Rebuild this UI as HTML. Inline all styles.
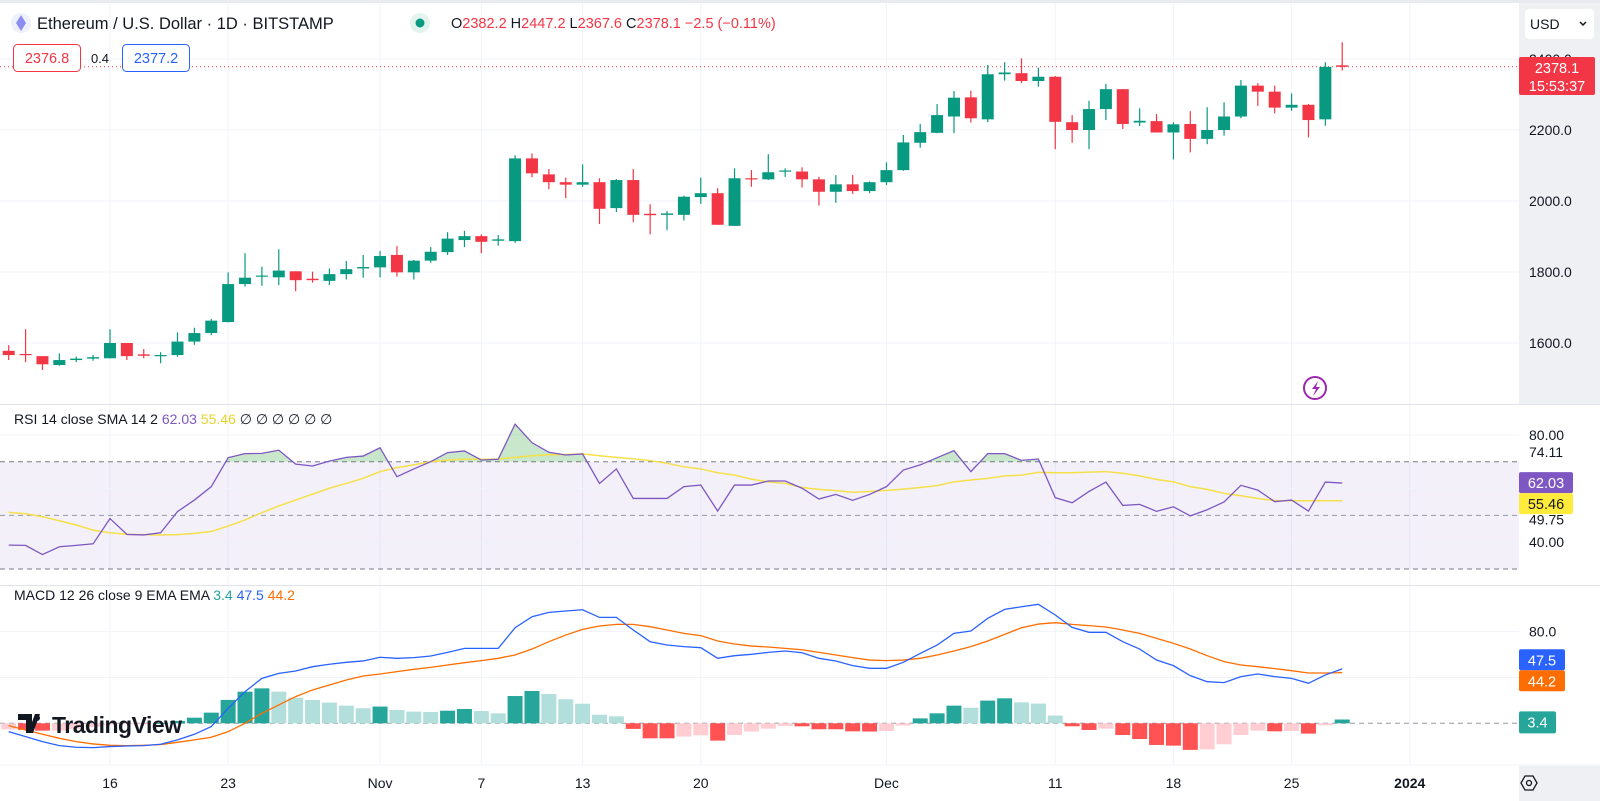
<!DOCTYPE html>
<html><head><meta charset="utf-8">
<style>
html,body{margin:0;padding:0;background:#fff;}
svg{display:block;font-family:"Liberation Sans",sans-serif;}
</style></head>
<body>
<svg id="chart" width="1600" height="801" viewBox="0 0 1600 801" xmlns="http://www.w3.org/2000/svg">
  <rect x="0" y="0" width="1600" height="801" fill="#ffffff"/>
  <rect x="1519" y="3" width="81" height="401" fill="#eef0f3"/>
  <rect x="0" y="0" width="1600" height="3" fill="#e8eaef"/>
  <g id="grid"></g>
  <g id="rsiPane"></g>
  <g id="macdPane"></g>
  <g id="candles"></g>
  <line x1="0" y1="404.5" x2="1600" y2="404.5" stroke="#e0e3eb" stroke-width="1"/>
  <line x1="0" y1="585.5" x2="1600" y2="585.5" stroke="#e0e3eb" stroke-width="1"/>
  <line x1="0" y1="765" x2="1600" y2="765" stroke="#f0f3fa" stroke-width="1"/>
  <g id="axes"></g>

  <g>
    <circle cx="21" cy="23" r="10" fill="#eef0fb"/>
    <polygon points="21,15 26,23 21,31 16,23" fill="#8c8ff0"/>
    <text x="37" y="29" font-size="16.5" fill="#131722">Ethereum / U.S. Dollar · 1D · BITSTAMP</text>
    <circle cx="420" cy="23" r="10" fill="#e3f4ef"/>
    <circle cx="420" cy="23" r="4.5" fill="#089981"/>
    <text x="451" y="28" font-size="14.5" fill="#f23645"><tspan fill="#131722">O</tspan>2382.2 <tspan fill="#131722">H</tspan>2447.2 <tspan fill="#131722">L</tspan>2367.6 <tspan fill="#131722">C</tspan>2378.1 −2.5 (−0.11%)</text>
    <rect x="13.5" y="44.5" width="67" height="27" rx="4" fill="#fff" stroke="#f23645"/>
    <text x="47" y="63" font-size="14.5" fill="#f23645" text-anchor="middle">2376.8</text>
    <text x="100" y="63" font-size="13" fill="#131722" text-anchor="middle">0.4</text>
    <rect x="122.5" y="44.5" width="67" height="27" rx="4" fill="#fff" stroke="#2962ff"/>
    <text x="156" y="63" font-size="14.5" fill="#2962ff" text-anchor="middle">2377.2</text>
  </g>
  <g>
    <rect x="1525" y="9" width="69" height="30" rx="4" fill="#ffffff"/>
    <text x="1530" y="29" font-size="14" fill="#131722">USD</text>
    <path d="M1580 22 l3 3 l3 -3" fill="none" stroke="#131722" stroke-width="1.5"/>
  </g>
  <g>
    <circle cx="1315" cy="388" r="11" fill="#fff" stroke="#9c27b0" stroke-width="2"/>
    <path d="M1318 381 l-6 8 h4 l-3 7 l7 -9 h-4 z" fill="#9c27b0"/>
  </g>
  <text x="14" y="424" font-size="14" fill="#131722">RSI 14 close SMA 14 2 <tspan fill="#7e57c2">62.03</tspan> <tspan fill="#e8d42a">55.46</tspan> <tspan>∅ ∅ ∅ ∅ ∅ ∅</tspan></text>
  <text x="14" y="600" font-size="14" fill="#131722">MACD 12 26 close 9 EMA EMA <tspan fill="#26a69a">3.4</tspan> <tspan fill="#2962ff">47.5</tspan> <tspan fill="#ff6d00">44.2</tspan></text>
  <g>
    <path d="M18 714 h14 v19 h-6 v-13 h-8 z M35 714 h5 l-7 19 h-5 z" fill="#131722"/>
    <circle cx="37" cy="718" r="3" fill="#131722"/>
    <text x="52" y="733" font-size="23" font-weight="bold" fill="#131722" letter-spacing="-0.5">TradingView</text>
  </g>
  <rect x="1519" y="766" width="81" height="35" fill="#eef0f3"/>
  <polygon points="1521,783 1525,776 1533,776 1537,783 1533,790 1525,790" fill="none" stroke="#131722" stroke-width="1.3"/>
  <circle cx="1529" cy="783" r="2.5" fill="none" stroke="#131722" stroke-width="1.3"/>
  <g id="labels"></g>
</svg>
<script>
const dateLabels = ["16","23","Nov","7","13","20","Dec","11","18","25","2024"];
const dateIdx = [6,13,22,28,34,41,52,62,69,76,83];
const priceTicks = [1600,1800,2000,2200,2400];
const opens  = [1578,1569,1563,1538,1552,1556,1557,1600,1568,1563,1566,1604,1628,1659,1766,1787,1785,1802,1781,1775,1794,1810,1813,1848,1799,1832,1856,1890,1901,1888,1887,2120,2075,2053,2046,2053,1980,2059,1964,1961,1961,2011,2022,1930,2064,2061,2083,2083,2061,2026,2047,2028,2053,2087,2164,2192,2238,2292,2230,2357,2360,2338,2350,2222,2200,2259,2315,2221,2225,2193,2217,2175,2200,2238,2325,2308,2263,2271,2230,2382.2];
const highs  = [1594,1639,1563,1571,1562,1566,1639,1600,1583,1574,1630,1643,1668,1799,1853,1815,1864,1802,1801,1810,1831,1848,1859,1873,1834,1870,1912,1916,1906,1904,2129,2134,2090,2066,2103,2064,2062,2090,1991,1972,2015,2066,2036,2092,2087,2132,2092,2095,2068,2073,2073,2055,2109,2186,2217,2273,2310,2311,2383,2391,2402,2376,2352,2242,2282,2330,2315,2261,2245,2222,2253,2264,2278,2341,2332,2325,2303,2273,2391,2447.2];
const lows   = [1552,1546,1524,1536,1546,1550,1557,1552,1557,1543,1561,1595,1622,1658,1759,1761,1763,1746,1770,1763,1779,1784,1785,1787,1779,1826,1848,1870,1853,1874,1882,2067,2033,2008,2040,1935,1969,1940,1906,1918,1945,1992,1933,1930,2040,2059,2068,2038,1987,1995,2020,2022,2045,2085,2150,2191,2191,2221,2222,2339,2332,2322,2146,2164,2146,2228,2203,2211,2193,2117,2137,2160,2184,2233,2268,2247,2254,2179,2212,2367.6];
const closes = [1566,1566,1540,1552,1556,1560,1600,1563,1564,1566,1604,1628,1663,1766,1784,1790,1804,1777,1777,1794,1808,1814,1845,1799,1832,1857,1894,1901,1885,1892,2120,2078,2053,2046,2053,1978,2059,1961,1960,1965,2012,2022,1933,2064,2061,2081,2086,2061,2026,2047,2028,2053,2087,2165,2194,2242,2291,2233,2357,2362,2338,2350,2223,2200,2259,2315,2217,2226,2193,2216,2175,2200,2238,2325,2308,2263,2271,2228,2378,2378.1];
const rsiValues = [38.9,38.8,35.4,38.3,38.8,39.4,48.8,42.9,42.7,43.5,51.4,55.7,60.7,71.5,73.0,73.1,74.3,69.1,68.4,70.2,71.6,72.1,75.2,64.4,67.3,70.0,73.4,74.0,70.6,70.9,84.0,77.1,73.5,72.5,72.9,61.9,67.3,56.3,56.3,56.3,60.7,61.3,51.6,61.3,61.3,62.8,62.8,60.1,56.1,57.8,55.6,57.8,60.7,66.9,68.8,71.5,74.1,66.3,73.0,73.0,70.5,71.0,56.6,54.7,58.9,62.4,53.7,54.1,51.5,53.2,49.8,52.1,55.0,61.2,59.4,55.1,55.7,51.6,62.4,62.03];
const rsiSma = [51.1,50.6,49.5,48.0,46.4,44.5,43.5,42.9,42.8,42.7,42.8,43.3,44.0,46.0,48.3,51.0,53.5,55.7,57.9,60.1,61.9,63.8,66.3,67.8,68.8,70.0,70.6,71.0,70.9,71.0,71.6,72.2,72.6,72.7,72.9,72.2,71.6,71.1,70.4,69.4,68.1,67.3,65.9,65.0,63.5,62.5,61.9,60.4,59.7,59.2,58.6,58.9,59.3,59.8,60.4,61.1,62.5,63.2,63.8,64.7,65.0,66.0,65.9,65.9,66.1,66.3,65.7,64.7,63.4,62.5,60.7,59.7,58.2,57.3,56.3,55.5,55.46,55.46,55.46,55.46];
const macdLine = [-7.3,-11.6,-16.0,-19.5,-20.9,-21.2,-20.3,-19.8,-19.5,-18.3,-14.5,-9.6,-2.9,13.1,27.6,39.2,43.6,45.6,49.4,51.5,53.2,54.4,57.6,56.7,57.3,58.7,61.9,65.4,65.4,65.4,83.4,93.0,96.8,98.0,99.1,92.4,92.4,81.4,71.2,68.3,66.9,66.0,56.7,59.0,60.2,61.9,63.1,61.6,56.7,54.4,50.3,48.0,48.0,53.2,61.0,68.3,78.5,80.5,91.6,99.4,101.7,103.8,94.5,83.7,79.4,79.4,71.2,64.8,55.2,50.3,41.6,36.3,35.5,40.7,43.0,40.7,39.2,34.9,42.2,47.5];
const signalLine = [-2.0,-5.8,-9.6,-13.1,-16.0,-18.0,-19.2,-19.5,-19.2,-18.6,-16.6,-14.5,-12.2,-7.3,0.0,8.7,16.0,23.3,29.1,33.4,37.8,41.3,43.0,45.1,47.1,48.8,50.9,52.9,54.7,56.7,59.6,64.8,71.2,77.0,82.0,84.9,86.3,86.3,84.3,81.4,78.5,76.5,71.8,69.2,67.4,66.6,65.4,64.2,61.9,59.6,57.3,55.2,54.7,55.2,56.7,59.6,63.1,66.9,71.8,77.6,83.4,86.6,87.8,86.3,85.2,84.0,81.4,78.5,74.1,69.8,64.8,59.0,53.8,50.9,49.4,47.7,45.9,43.9,43.9,44.2];
const histLast = 3.4;
const rsiTicks = [80,40];
const macdTicks = [80,40];

const NS="http://www.w3.org/2000/svg";
function mk(tag, attrs, parent){const e=document.createElementNS(NS,tag);for(const k in attrs)e.setAttribute(k,attrs[k]);parent.appendChild(e);return e;}
const xOf = i => 8.7 + 16.88*i;
const yP = p => 130 + (2200-p)*0.355;
const yR = v => 461.7 - (v-70)*2.683;
const yM = v => 723.3 - v*1.146;
const PW = 1519;

const grid=document.getElementById('grid');
dateIdx.forEach((d,k)=>{const l=mk('line',{x1:xOf(d),x2:xOf(d),y1:3,y2:765,stroke:'#f0f3fa','stroke-width':1},grid);

});
priceTicks.forEach(p=>{const l=mk('line',{x1:0,x2:PW,y1:yP(p),y2:yP(p),stroke:'#f0f3fa','stroke-width':1},grid);

});

const rp=document.getElementById('rsiPane');
const band=mk('rect',{x:0,y:yR(70),width:PW,height:yR(30)-yR(70),fill:'rgba(126,87,194,0.09)'},rp);


[80,60,40].forEach(v=>{const l=mk('line',{x1:0,x2:PW,y1:yR(v),y2:yR(v),stroke:'#f0f3fa'},rp);

});
[70,50,30].forEach(v=>{const l=mk('line',{x1:0,x2:PW,y1:yR(v),y2:yR(v),stroke:v===50?'#9598a1':'#787b86','stroke-dasharray':'5 4','stroke-width':1},rp);

});
const defs=mk('defs',{},rp);
const cp=mk('clipPath',{id:'obClip'},defs);
mk('rect',{x:0,y:0,width:PW,height:yR(70)},cp);
let obd='M'+xOf(0)+' '+yR(70);
rsiValues.forEach((v,i)=>{obd+=' L'+xOf(i)+' '+yR(v);});
obd+=' L'+xOf(rsiValues.length-1)+' '+yR(70)+' Z';
const ob=mk('path',{d:obd,fill:'rgba(76,175,80,0.3)','clip-path':'url(#obClip)'},rp);


const smaPath=mk('polyline',{points:rsiSma.map((v,i)=>xOf(i)+','+yR(v)).join(' '),fill:'none',stroke:'#f5e04a','stroke-width':1.5},rp);


const rsiPath=mk('polyline',{points:rsiValues.map((v,i)=>xOf(i)+','+yR(v)).join(' '),fill:'none',stroke:'#7e57c2','stroke-width':1.3},rp);



const mp=document.getElementById('macdPane');
macdTicks.forEach(v=>{const l=mk('line',{x1:0,x2:PW,y1:yM(v),y2:yM(v),stroke:'#f0f3fa'},mp);

});
const zl=mk('line',{x1:0,x2:PW,y1:yM(0),y2:yM(0),stroke:'#9598a1','stroke-dasharray':'5 4'},mp);


macdLine.forEach((m,i)=>{
  const h=m-signalLine[i];
  const prev = i>0 ? macdLine[i-1]-signalLine[i-1] : h;
  let col;
  if(h>=0) col = h>=prev ? '#26a69a' : '#b2dfdb';
  else col = h<prev ? '#ff5252' : '#ffcdd2';
  const y1=yM(Math.max(h,0)), y2=yM(Math.min(h,0));
  const b=mk('rect',{x:xOf(i)-7.5,y:y1,width:15,height:Math.max(1,y2-y1),fill:col},mp);
  
  
});
const sig=mk('polyline',{points:signalLine.map((v,i)=>xOf(i)+','+yM(v)).join(' '),fill:'none',stroke:'#ff6d00','stroke-width':1.3},mp);


const mac=mk('polyline',{points:macdLine.map((v,i)=>xOf(i)+','+yM(v)).join(' '),fill:'none',stroke:'#2962ff','stroke-width':1.3},mp);



const cg=document.getElementById('candles');
const cur = closes[closes.length-1];
const pl=mk('line',{x1:0,x2:PW,y1:yP(cur),y2:yP(cur),stroke:'#f23645','stroke-dasharray':'1 3','stroke-width':1},cg);


opens.forEach((o,i)=>{
  const c=closes[i], up=c>=o, col=up?'#089981':'#f23645', x=xOf(i);
  const w=mk('line',{x1:x,x2:x,y1:yP(highs[i]),y2:yP(lows[i]),stroke:col,'stroke-width':1.2},cg);
  
  
  const top=yP(Math.max(o,c)), bot=yP(Math.min(o,c));
  const b=mk('rect',{x:x-6,y:top,width:12,height:Math.max(1.2,bot-top),fill:col},cg);
  
  
});

const ax=document.getElementById('axes');
priceTicks.forEach(p=>{const t=mk('text',{x:1529,y:yP(p)+5,'font-size':14,fill:'#131722'},ax);t.textContent=p.toFixed(1);

});
dateLabels.forEach((s,k)=>{const t=mk('text',{x:xOf(dateIdx[k]),y:788,'font-size':14,fill:'#131722','text-anchor':'middle','font-weight':s==='2024'?'bold':'normal'},ax);t.textContent=s;

});
const rsiLabelTexts=['80.00','74.11','49.75','40.00'];
const rsiLabelVals=[80,73.6,48.5,40];
rsiLabelTexts.forEach((s,k)=>{const t=mk('text',{x:1529,y:yR(rsiLabelVals[k])+5,'font-size':14,fill:'#131722'},ax);t.textContent=s;

});
const mt=mk('text',{x:1529,y:yM(80)+5,'font-size':14,fill:'#131722'},ax);mt.textContent='80.0';



const lb=document.getElementById('labels');
function tag(name,x,y,w,h,bg,fg,lines){
  const g=mk('g',{},lb);
  
  
  mk('rect',{x:x,y:y,width:w,height:h,rx:2,fill:bg},g);
  lines.forEach((s,k)=>{const t=mk('text',{x:x+w/2,y:y+16+k*18,'font-size':14.5,fill:fg,'text-anchor':'middle'},g);t.textContent=s;});
}
tag('last-price-tag',1519,57,76,38,'#f23645','#ffffff',[cur.toFixed(1),'15:53:37']);
const rv=rsiValues[rsiValues.length-1], sv=rsiSma[rsiSma.length-1];
let ry=yR(rv)-11, sy=yR(sv)-11;
if(sy<ry+21) sy=ry+21;
tag('rsi-value-tag',1519,ry,54,21,'#7e57c2','#ffffff',[rv.toFixed(2)]);
tag('rsi-sma-value-tag',1519,sy,54,21,'#ffeb3b','#131722',[sv.toFixed(2)]);
const mv=macdLine[macdLine.length-1], gv=signalLine[signalLine.length-1];
let mcy=yM(mv)-11, sgy=yM(gv)-11;
const mid=(mcy+sgy)/2;
if(sgy<mcy+21){mcy=mid-10.5; sgy=mid+10.5;}
tag('macd-value-tag',1519,mcy,46,21,'#2962ff','#ffffff',[mv.toFixed(1)]);
tag('signal-value-tag',1519,sgy,46,21,'#ff6d00','#ffffff',[gv.toFixed(1)]);
tag('histogram-value-tag',1519,yM(histLast)-8,37,22,'#26a69a','#ffffff',[histLast.toFixed(1)]);
</script>
</body></html>
